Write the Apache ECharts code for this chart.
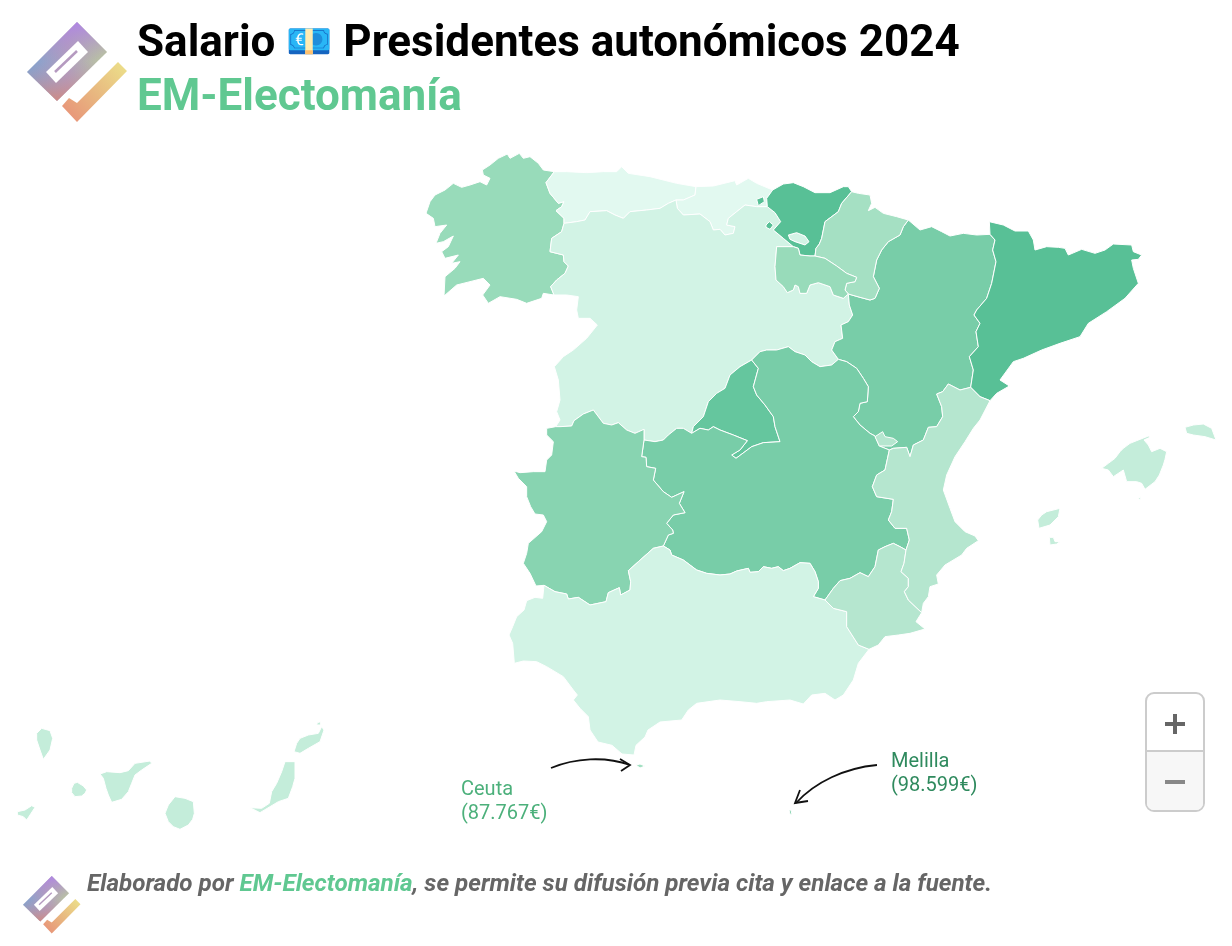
<!DOCTYPE html>
<html><head><meta charset="utf-8">
<style>html,body{margin:0;padding:0;background:#fff}#c{width:1232px;height:946px}</style>
<script src="https://cdn.jsdelivr.net/npm/echarts@6/dist/echarts.min.js"></script>
</head><body><div id="c"></div>
<script>
// ---- Data ----
const regionNames = ['Galicia','Asturias','Cantabria','Castilla y León','País Vasco','Navarra','La Rioja','Aragón','Cataluña','Madrid','Castilla-La Mancha','Extremadura','Andalucía','Murcia','C. Valenciana','Baleares','Canarias','Ceuta','Melilla'];
const salaries = [91000,65000,65000,70500,115000,86500,91000,103000,115000,110000,103000,97000,70500,81000,81000,75500,75500,87767,98599];
const scaleMin = 65000, scaleMax = 115000;
const scaleColors = ['#e2f9f0','#9bdcbc','#58c096'];
const titleParts = ['Salario ','💶',' Presidentes autonómicos 2024'];
const subtitleText = 'EM-Electomanía';

// ---- Map geometry (boundary arcs, traced at 3x; each frame is a crop origin) ----
const f=(ox,oy,a)=>{const r=[];for(let i=0;i<a.length;i+=2)r.push([ox+a[i]/3,oy+a[i+1]/3]);return r;};
const F1=a=>f(420,140,a),F2=a=>f(760,170,a),F3=a=>f(500,400,a),F4=a=>f(840,400,a),F5=a=>f(0,700,a);
const rev=a=>a.slice().reverse();
const ring=(...arcs)=>{const r=[];arcs.forEach(a=>r.push(...a));r.push(r[0]);return r;};

const galCoast=F1([403,95,370,90,355,70,330,50,310,55,298,40,270,55,262,42,235,55,210,75,187,90,190,105,210,115,200,135,180,125,150,135,125,142,100,130,75,150,45,165,30,185,18,220,40,235,45,260,80,255,60,280,48,310,70,305,100,288,85,320,65,335,75,355,115,345,95,370,120,365,105,385,75,410,72,468,110,435,150,425,190,415,210,435,188,465,205,490,240,470,290,478,320,490,365,475,370,460,402,465]);
const galAst=F1([403,95,378,128,390,160,415,190,432,185,425,200,408,212,432,235,432,250]);
const galCyl=F1([432,250,425,275,395,295,390,335,430,345,432,365,445,378,435,400,410,420,392,440,402,465]);
const astCoast=F1([403,95,440,95,500,98,550,95,590,95,605,80,625,100,690,110,770,130,828,140]);
const astCant=F1([828,140,825,165,790,180,768,180]);
const astCyl=F1([432,250,470,245,495,240,510,215,560,212,585,225,610,235,630,215,680,210,720,205,745,190,768,180]);
const cantCoast=F1([828,140,880,138,945,122,950,135,985,115,1010,130,1058,150]);
const cantCyl=F1([768,180,772,205,790,225,840,222,870,245,880,270,900,268,915,285,940,280,945,260,920,255,925,235,950,215,975,195,1010,200,1042,200]);
const cantEus=F1([1058,150,1040,175,1042,200]);
const eusCoast=F2([38,60,70,42,100,38,130,50,165,68,210,68,250,50,265,50,275,65]);
const eusNav=F2([275,65,245,100,235,125,195,155,185,205,178,222,168,235,165,258]);
const eusRioja=F2([165,258,150,258,120,255,115,235,100,230]);
const eusCyl=F2([100,230,70,205,40,180,62,155,45,128,22,110]);
const navCoast=F2([275,65,295,70,330,75,335,100,325,122,345,112,370,130,410,140,445,150]);
const navAra=F2([445,150,430,170,420,195,385,215,365,240,350,270,340,320,358,355,345,385,330,390,300,382,265,372]);
const navRioja=F2([165,258,195,265,230,288,260,310,290,322,285,335,260,340,255,360,265,372]);
const rioCyl=F2([100,230,50,230,45,290,48,330,70,350,82,368,100,360,105,345,115,350,120,370,140,370,150,345,175,338,210,350,220,375,250,385,265,372]);
const cylAra=F2([265,372,268,405,278,435,265,455,243,465,248,505,225,515,215,540,235,568]);
const cylClm=F2([235,568,215,585,180,590,155,575,135,555,105,545,85,530,50,540,20,540,0,545,-25,570]);
const madCyl=F1([995,660,960,680,930,705,915,745,890,760,865,785,850,830,820,860,815,880]);
const madClm=F1([995,660,1015,685,1000,740,1010,765,1035,795,1060,830,1065,860,1080,905,1030,908,995,920,975,935,948,955,935,945,960,930,982,902,940,885,900,870,880,860,865,870,840,865,815,880]);
const clmCyl=F3([575,100,550,85,530,85,505,105,490,120,465,125,432,120]);
const cylExt=F3([432,120,432,88,405,100,380,90,355,68,335,75,310,70,280,30,250,42,222,62,215,78,180,80,167,80]);
const cylPort=F1([407,860,420,840,410,815,420,780,415,720,403,680,430,650,460,630,500,595,532,555,510,535,475,535,470,510,475,470,440,465,402,465]);
const clmAra=F2([235,568,260,575,290,595,310,625,325,650,322,695,300,700,295,725,280,740,300,765,330,790,345,798,358,828,388,840]);
const araVal=F2([632,652,600,660,565,642,548,665,530,672,545,710,548,740,530,770,505,772,490,810,460,825,450,860,440,832,400,835,388,840]);
const araCat=F2([690,193,705,210,698,240,708,275,695,340,680,385,650,420,642,435,660,460,648,485,655,530,628,560,640,600,632,652]);
const araNorth=F2([445,150,480,180,515,170,545,185,570,198,610,190,650,195,690,193]);
const catEdge=F2([690,193,688,155,730,165,765,183,805,183,820,210,825,240,860,230,895,232,915,235,925,255,965,238,1005,250,1035,240,1060,222,1115,225,1120,245,1145,255,1135,268,1115,270,1120,295,1135,340,1095,385,1040,425,985,460,960,500,900,520,845,540,790,565,760,575,720,630,748,648,710,670,690,692]);
const valCat=F2([690,692,660,680,632,652]);
const clmVal=F4([148,150,135,210,110,225,97,260,110,290,160,298,155,335,145,360,165,385,200,385,208,420,198,450]);
const valMur=F4([198,450,192,490,183,515,205,535,205,560,193,575,205,600,245,638]);
const valCoast=F4([245,638,250,610,265,590,270,560,295,552,290,525,315,495,365,465,380,445,415,422,405,408,375,395,345,365,330,325,310,270,320,225,345,170,375,125,400,85,420,60,450,2]);
const murCoast=F4([245,638,228,665,255,687,210,700,175,705,135,710,115,735,87,748]);
const clmMur=F3([1218,450,1200,440,1180,430,1155,440,1135,450,1125,500,1105,530,1080,518,1050,535,1020,542,1000,565,975,600]);
const clmAnd=F3([975,600,940,590,955,565,955,545,945,515,930,490,900,488,870,505,850,512,835,500,815,505,790,500,775,515,750,517,745,505,710,513,690,522,660,525,620,520,590,510,550,480,515,465,510,450,490,438]);
const extClm=F3([490,438,505,405,520,400,518,390,500,370,520,345,555,338,538,310,552,275,515,292,490,275,460,240,467,205,440,200,438,172,425,170,432,120]);
const extPort=F3([167,80,140,85,140,105,160,125,155,165,140,180,135,215,100,215,60,218,42,213,55,235,80,260,80,290,92,320,105,342,130,345,140,365,125,395,85,430,80,460,70,490,90,520,108,558,132,556]);
const extAnd=F3([132,556,165,575,200,582,205,597,235,592,270,615,318,605,325,578,358,563,362,585,390,570,392,545,385,512,415,485,460,445,490,438]);
const andCoast=F3([132,556,128,595,105,592,80,602,72,630,50,650,38,680,27,705,38,730,43,790,70,783,110,785,140,800,190,830,220,870,232,885,220,900,240,925,265,950,270,990,294,1026,336,1036,366,1062,402,1065,408,1036,435,1011,444,990,480,966,545,960,565,930,590,910,660,900,720,905,770,910,800,905,870,900,910,912,935,885,975,880,1005,900,1030,885,1060,840,1075,790,1107,748]);
const murAnd=F3([1107,748,1075,735,1040,680,1040,635,1000,625,975,600]);

const regionShapes = {
 'Galicia':[[ring(galCoast,rev(galCyl),rev(galAst))]],
 'Asturias':[[ring(astCoast,astCant,rev(astCyl),rev(galAst))]],
 'Cantabria':[[ring(cantCoast,cantEus,rev(cantCyl),rev(astCant))]],
 'Castilla y León':[[ring(astCyl,cantCyl,rev(eusCyl),rioCyl,cylAra,cylClm,madCyl,clmCyl,cylExt,cylPort,rev(galCyl))],
   [ring(F2([85,195,110,188,135,198,147,215,135,225,105,215,90,208]))]],
 'País Vasco':[[ring(eusCoast,eusNav,eusRioja,eusCyl,rev(cantEus)),
     ring(F2([85,195,90,208,105,215,135,225,147,215,135,198,110,188]))],
   [ring(F2([18,165,28,155,40,165,30,178,18,172]))],
   [ring(F1([1010,178,1030,170,1033,185,1015,197]))]],
 'Navarra':[[ring(navCoast,navAra,rev(navRioja),rev(eusNav))]],
 'La Rioja':[[ring(rioCyl,rev(navRioja),eusRioja)]],
 'Aragón':[[ring(araNorth,araCat,araVal,rev(clmAra),rev(cylAra),rev(navAra))]],
 'Cataluña':[[ring(catEdge,valCat,rev(araCat))]],
 'Madrid':[[ring(madClm,rev(madCyl))]],
 'Castilla-La Mancha':[[ring(rev(cylClm),clmAra,clmVal,clmMur,clmAnd,extClm,rev(clmCyl),rev(madClm))]],
 'Extremadura':[[ring(extPort,extAnd,extClm,cylExt)]],
 'Andalucía':[[ring(andCoast,murAnd,clmAnd,rev(extAnd))]],
 'Murcia':[[ring(valMur,murCoast,murAnd,rev(clmMur))]],
 'C. Valenciana':[[ring(valCat,araVal,clmVal,valMur,valCoast)],
   [ring(F2([345,800,368,785,375,800,400,805,413,815,395,828,358,828]))]],
 'Baleares':[
   [ring(F4([785,205,805,190,825,175,840,155,850,145,870,130,890,122,925,108,930,112,912,120,925,135,935,155,960,145,980,155,975,178,970,195,958,225,945,245,915,268,905,250,890,245,860,245,850,210,820,230,805,210]))],
   [ring(F4([1035,82,1060,75,1090,72,1115,85,1128,120,1095,110,1060,105,1040,100]))],
   [ring(F4([593,360,605,345,620,335,660,325,655,350,630,375,597,385]))],
   [ring(F4([628,412,640,412,645,425,660,425,650,432,630,435]))],
   [ring(F4([895,295,902,290,902,300]))]],
 'Canarias':[
   [ring(F5([110,100,125,85,150,92,158,115,150,150,130,178,120,150,110,120]))],
   [ring(F5([52,335,75,330,95,317,105,322,90,345,80,360,70,350,52,345]))],
   [ring(F5([215,265,222,250,232,247,250,258,260,270,255,280,245,288,225,290,215,278]))],
   [ring(F5([300,222,320,215,360,218,385,212,405,190,450,183,455,190,425,210,405,225,395,250,385,275,365,298,335,307,325,285,318,265,310,235]))],
   [ring(F5([495,340,505,315,525,290,555,295,580,305,583,340,578,358,565,375,540,388,520,380,505,365]))],
   [ring(F5([750,323,785,325,808,310,815,275,830,250,845,215,855,185,885,185,885,235,878,260,865,295,835,305,810,320,780,338]))],
   [ring(F5([882,155,890,130,900,115,925,105,955,100,965,80,972,90,960,125,925,145,900,160]))],
   [ring(F5([952,68,962,65,962,75,950,75]))]],
 'Ceuta':[[ring(f(0,0,[1908,2295,1920,2292,1935,2298,1920,2304]))]],
 'Melilla':[[ring(f(0,0,[2367,2430,2373,2430,2376,2445,2370,2442]))]]
};
const drawOrder=['Galicia','Asturias','Cantabria','Castilla y León','País Vasco','Aragón','Navarra','La Rioja','Cataluña','Madrid','Castilla-La Mancha','Extremadura','Andalucía','Murcia','C. Valenciana','Baleares','Canarias','Ceuta','Melilla'];
const geoJson={type:'FeatureCollection',features:drawOrder.map(n=>({type:'Feature',properties:{name:n},geometry:{type:'MultiPolygon',coordinates:regionShapes[n]}}))};
echarts.registerMap('spain',geoJson);

const fmt=v=>String(v).replace(/\B(?=(\d{3})+$)/g,'.');
const salaryOf=n=>salaries[regionNames.indexOf(n)];

// ---- Logo, drawn as decoration ----
function logo(x,y,s){
 const poly=(pts,fill,extra)=>Object.assign({type:'polygon',shape:{points:pts},style:{fill},silent:true},extra||{});
 const main=[[50,0],[80,30],[30,79],[0,50]];
 const grad=(x0,y0,x1,y1,stops)=>new echarts.graphic.LinearGradient(x0,y0,x1,y1,stops);
 return {type:'group',x,y,scaleX:s,scaleY:s,children:[
  poly(main,grad(0,0,1,0,[{offset:0,color:'#7aa6d2'},{offset:.5,color:'#b09dc0'},{offset:1,color:'#bcd09a'}])),
  poly(main,grad(0,0,0,1,[{offset:0,color:'rgba(176,132,232,.95)'},{offset:.5,color:'rgba(176,150,190,.1)'},{offset:1,color:'rgba(215,135,120,.85)'}])),
  poly([[51,19],[61,30],[29,61],[19,50]],'#fff'),
  {type:'line',shape:{x1:50,y1:29,x2:28,y2:50},style:{stroke:'#b59ac0',lineWidth:2.5},silent:true},
  poly([[91,40],[100,49],[50,100],[35,84],[42,76],[50,81]],grad(1,0,0,1,[{offset:0,color:'#ece28a'},{offset:.5,color:'#e8b880'},{offset:1,color:'#e88e78'}]))
 ]};
}
const arrow=(x1,y1,cx1,cy1,cx2,cy2,x2,y2,head)=>[
 {type:'bezierCurve',shape:{x1,y1,cpx1:cx1,cpy1:cy1,cpx2:cx2,cpy2:cy2,x2,y2},style:{stroke:'#111',lineWidth:1.8,fill:'none'},silent:true},
 {type:'polyline',shape:{points:head},style:{stroke:'#111',lineWidth:1.8,fill:'none'},silent:true}];
const label=(x,y,text,color)=>({type:'text',x,y,style:{text,fill:color,font:'400 20px Roboto',textVerticalAlign:'middle'},silent:true});
const titleFont={fontFamily:'Roboto',fontWeight:700,fontSize:44,color:'#000',lineHeight:48};

const chart=echarts.init(document.getElementById('c'),null,{width:1232,height:946});
chart.setOption({
 animation:false,backgroundColor:'#fff',
 title:{text:`{a|${titleParts[0]}}{e|${titleParts[1]}}{a|${titleParts[2]}}`,subtext:subtitleText,left:137,top:21,padding:0,itemGap:10,
   textStyle:{rich:{a:titleFont,e:Object.assign({},titleFont,{fontSize:37})}},
   subtextStyle:{fontFamily:'Roboto',fontWeight:700,fontSize:44,color:'#60c891',lineHeight:48}},
 visualMap:{show:false,type:'continuous',min:scaleMin,max:scaleMax,inRange:{color:scaleColors},seriesIndex:0},
 series:[{type:'map',map:'spain',silent:true,
   projection:{project:p=>p,unproject:p=>p},
   boundingCoords:[[0,0],[1232,946]],left:0,top:0,width:1232,height:946,roam:false,
   label:{show:false},itemStyle:{borderColor:'#fff',borderWidth:1},
   data:regionNames.map((name,i)=>({name,value:salaries[i]}))}],
 graphic:[
  logo(27,22,1),logo(23,876,0.575),
  label(461,790,'Ceuta','#4cb07b'),label(461,814,`(${fmt(salaryOf('Ceuta'))}€)`,'#4cb07b'),
  label(891,762,'Melilla','#2f8a5e'),label(891,786,`(${fmt(salaryOf('Melilla'))}€)`,'#2f8a5e'),
  ...arrow(551,768,575,758,605,756,630,765,[[620,759],[630,765],[621,771]]),
  ...arrow(877,765,845,768,815,782,796,803,[[800,790],[795,803],[808,801]]),
  {type:'text',x:87,y:885,silent:true,style:{text:'{a|Elaborado por }{b|EM-Electomanía}{a|, se permite su difusión previa cita y enlace a la fuente.}',textVerticalAlign:'middle',
    rich:{a:{font:'italic 700 24.2px Roboto',fill:'#666'},b:{font:'italic 700 24.2px Roboto',fill:'#60c891'}}}},
  {type:'rect',shape:{x:1146,y:693,width:58,height:118,r:8},style:{fill:'#fff',stroke:'#ccc',lineWidth:2},silent:true},
  {type:'rect',shape:{x:1147,y:752,width:56,height:58,r:[0,0,7,7]},style:{fill:'#f7f7f7'},silent:true},
  {type:'line',shape:{x1:1146,y1:751,x2:1204,y2:751},style:{stroke:'#ccc',lineWidth:2},silent:true},
  {type:'rect',shape:{x:1165,y:722,width:20,height:4},style:{fill:'#666'},silent:true},
  {type:'rect',shape:{x:1173,y:714,width:4,height:20},style:{fill:'#666'},silent:true},
  {type:'rect',shape:{x:1165,y:780,width:20,height:4},style:{fill:'#888'},silent:true}
 ]
});
</script></body></html>
